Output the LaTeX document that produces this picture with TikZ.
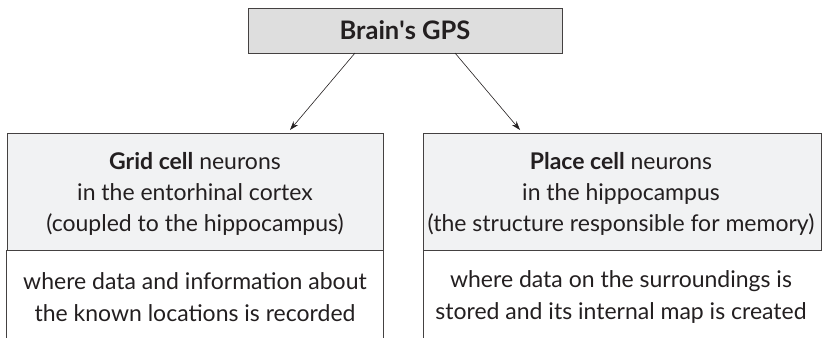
\documentclass[tikz,border=0pt]{standalone}
\usepackage{fontspec}
\setmainfont{Lato}
\usetikzlibrary{arrows.meta}
\definecolor{txt}{HTML}{231F20}
\definecolor{topfill}{HTML}{DEDEDE}
\definecolor{headfill}{HTML}{F1F2F3}
\begin{document}
\begin{tikzpicture}[x=1pt,y=-1pt,
  boxline/.style={draw=txt!85,line width=0.8pt},
  topbox/.style={boxline,fill=topfill,minimum width=314pt,minimum height=45pt,inner sep=0pt,font=\fontsize{25.5}{30}\selectfont\bfseries,text=txt},
  headbox/.style={boxline,fill=headfill,minimum height=117pt,inner sep=0pt},
  headtext/.style={align=center,inner sep=0pt,font=\fontsize{23}{31}\selectfont,text=txt},
  bodytext/.style={align=center,font=\fontsize{23}{32}\selectfont,text=txt,inner sep=0pt},
  arr/.style={draw=txt,line width=0.6pt,-{Stealth[length=9pt,width=6pt]}}]
\useasboundingbox (0,0) rectangle (822,338);
\node[topbox] (gps) at (405,30.5) {Brain\textquotesingle s GPS};
\node[headbox,minimum width=376pt] (gridh) at (195,191.5) {};
\node[headbox,minimum width=398pt] (placeh) at (622.5,191.5) {};
\node[headtext] (gridt) at (195,194) {\textbf{Grid cell} neurons\\in the entorhinal cortex\\(coupled to the hippocampus)};
\node[headtext] (placet) at (621,194) {\textbf{Place cell} neurons\\in the hippocampus\\(the structure responsible for memory)};
\node[bodytext] (gridb) at (195,297) {where data and information about\\the known locations is recorded};
\node[bodytext] (placeb) at (621,297) {where data on the surroundings is\\stored and its internal map is created};
\coordinate (gbl) at (gridh.south west |- 0,338);
\coordinate (gbr) at (gridh.south east |- 0,338);
\coordinate (pbl) at (placeh.south west |- 0,338);
\coordinate (pbr) at (placeh.south east |- 0,338);
\draw[boxline] (gridh.south west) -- (gbl) (gridh.south east) -- (gbr);
\draw[boxline] (placeh.south west) -- (pbl) (placeh.south east) -- (pbr);
\coordinate (a1) at (355,53);
\coordinate (a2) at (455,53);
\draw[arr] (a1) -- (290,130);
\draw[arr] (a2) -- (520,130);
\end{tikzpicture}
\end{document}
